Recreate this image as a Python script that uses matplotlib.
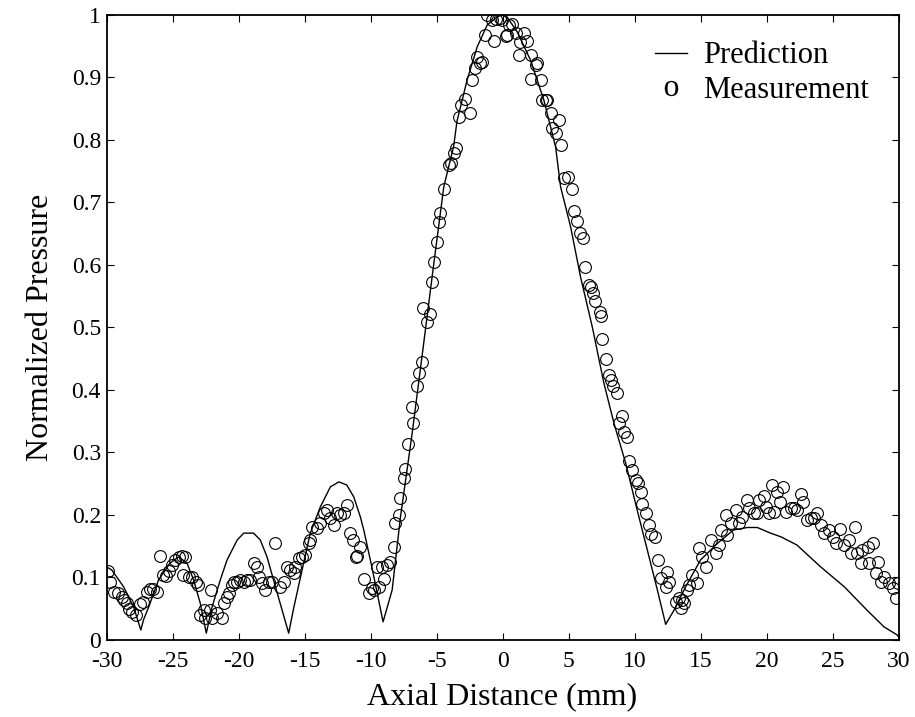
import matplotlib
matplotlib.use("Agg")
import matplotlib.pyplot as plt
from matplotlib.lines import Line2D

#%% Data

# Prediction curve (axial distance in mm, normalized pressure)
pred_x = [-30.0, -29.6, -28.7, -27.95, -27.4, -27.2, -26.8, -26.06, -25.2, -24.54,
          -23.9, -23.4, -22.9, -22.44, -22.0, -21.38, -20.87, -20.1, -19.6, -18.86,
          -18.35, -17.84, -17.2, -16.7, -16.2, -15.8, -15.3, -14.56, -13.8, -13.04,
          -12.4, -11.8, -11.27, -10.77, -10.5, -9.9, -9.05, -8.36, -7.73, -6.85,
          -5.97, -5.2, -4.45, -3.7, -3.45, -2.68, -1.92, -1.16, -0.4, 0.0,
          0.4, 1.11, 2.12, 3.13, 4.02, 4.4, 5.16, 5.91, 6.8, 7.68,
          8.44, 9.33, 10.2, 10.97, 11.73, 12.36, 13.0, 13.87, 15.0, 16.3,
          17.5, 18.55, 19.3, 20.3, 21.1, 22.3, 24.1, 25.9, 27.6, 28.9,
          29.9, 30.0]
pred_y = [0.117, 0.112, 0.085, 0.053, 0.016, 0.032, 0.053, 0.096, 0.123, 0.133,
          0.123, 0.096, 0.059, 0.011, 0.053, 0.096, 0.128, 0.160, 0.171, 0.171,
          0.160, 0.133, 0.085, 0.048, 0.011, 0.053, 0.101, 0.171, 0.213, 0.245,
          0.253, 0.248, 0.229, 0.197, 0.175, 0.117, 0.029, 0.080, 0.197, 0.330,
          0.475, 0.603, 0.725, 0.790, 0.830, 0.896, 0.949, 0.984, 0.997, 1.000,
          0.995, 0.973, 0.928, 0.864, 0.789, 0.725, 0.661, 0.581, 0.501, 0.411,
          0.347, 0.283, 0.208, 0.144, 0.080, 0.025, 0.048, 0.085, 0.128, 0.155,
          0.176, 0.180, 0.180, 0.171, 0.165, 0.152, 0.117, 0.085, 0.048, 0.021,
          0.008, 0.005]

# Measured points
meas_x = [
    # side lobes, left
    -29.92, -29.77, -29.47, -29.16, -28.84, -28.71, -28.46, -28.33, -28.08, -27.75,
    -27.45, -27.24, -26.94, -26.74, -26.49, -26.18, -25.93, -25.73, -25.47, -25.30,
    -25.04, -24.79, -24.54, -24.29, -24.03, -24.21, -23.78, -23.53, -23.20, -23.10,
    -22.90, -22.64, -22.52, -22.14, -22.01, -21.63, -21.25, -22.09, -21.13, -20.87,
    -20.75, -20.50, -20.37, -20.12, -19.86, -19.61, -19.36, -19.11, -18.85, -18.60,
    -18.48, -18.22, -17.97, -17.72, -17.46, -17.21, -16.83, -16.58, -16.33, -16.07,
    -15.82, -15.69, -15.44, -15.19, -14.94, -14.68, -14.56, -14.43, -14.05, -13.80,
    -13.55, -13.29, -13.04, -12.79, -12.53, -12.28,
    -12.03, -11.78, -11.52, -11.32, -11.07, -11.00, -10.77, -10.51, -10.13, -9.88,
    -9.75, -9.37, -8.99, -9.50, -9.12, -8.75, -8.54,
    # main lobe, rising side
    -8.24, -8.11, -7.86, -7.73, -7.48, -7.35, -7.18, -6.85, -6.77, -6.47,
    -6.34, -6.09, -5.71, -5.51, -6.01, -5.33, -5.16,
    -4.95, -4.83, -4.70, -4.40, -4.07, -3.94, -3.69, -3.56, -3.31, -3.18,
    -2.48, -2.81, -2.30, -2.05, -1.92, -1.67, -1.54, -1.29, -1.16, -0.66,
    -0.78, -0.53, -0.20, -0.03, 0.23, 0.35, 0.48, 0.73, 0.99, 1.36,
    1.62, 1.87, 1.24, 2.12, 2.63, 2.50, 2.17, 2.88, 3.01, 3.26,
    3.39, 3.64, 4.27, 3.77, 4.02, 4.40, 4.65, 4.95, 5.28, 5.41,
    5.66, 5.86, 6.12,
    # main lobe, falling side
    6.22, 6.55, 6.67, 6.87, 7.00, 7.38, 7.43, 7.56, 7.81, 8.06,
    8.19, 8.37, 8.64, 9.02, 8.82, 9.20, 9.45, 9.58, 9.83, 10.08,
    10.26, 10.46, 10.59, 10.84, 11.09, 11.27, 11.52, 11.80, 12.43, 11.98,
    12.61, 12.36,
    # side lobe, right
    13.12, 13.37, 13.62, 13.75, 13.50, 14.00, 14.13, 14.38, 14.76, 14.89,
    15.14, 15.39, 15.77, 16.15, 16.41, 16.53, 16.91, 17.03, 17.29, 17.67,
    17.92, 18.17, 18.55, 18.68, 19.05, 19.31, 19.44, 19.81, 19.94, 20.19,
    20.44, 20.82, 21.28, 21.03, 20.57, 21.45, 21.83, 22.08, 22.34, 22.64,
    22.79, 23.05, 23.35, 23.60, 23.86, 24.11, 24.36, 24.74, 25.00, 25.25,
    25.57, 25.88, 26.26, 26.38, 26.71, 26.89, 27.27, 27.65, 28.03, 27.14,
    27.77, 28.41, 28.28, 28.66, 28.91, 29.29, 29.55, 29.93, 29.80]
meas_y = [
    0.111, 0.092, 0.077, 0.075, 0.069, 0.064, 0.059, 0.049, 0.045, 0.040,
    0.058, 0.061, 0.077, 0.081, 0.081, 0.077, 0.134, 0.104, 0.102, 0.111,
    0.120, 0.128, 0.133, 0.134, 0.133, 0.104, 0.101, 0.101, 0.092, 0.088,
    0.040, 0.048, 0.035, 0.048, 0.035, 0.043, 0.035, 0.080, 0.059, 0.069,
    0.075, 0.088, 0.092, 0.093, 0.096, 0.093, 0.096, 0.096, 0.123, 0.117,
    0.101, 0.091, 0.080, 0.093, 0.093, 0.155, 0.085, 0.093, 0.117, 0.112,
    0.107, 0.117, 0.131, 0.133, 0.136, 0.155, 0.160, 0.181, 0.179, 0.187,
    0.203, 0.208, 0.195, 0.184, 0.203, 0.200,
    0.203, 0.216, 0.171, 0.160, 0.133, 0.135, 0.149, 0.097, 0.075, 0.083,
    0.080, 0.085, 0.097, 0.117, 0.117, 0.120, 0.125,
    0.148, 0.187, 0.200, 0.227, 0.259, 0.273, 0.313, 0.372, 0.347, 0.406,
    0.427, 0.445, 0.509, 0.522, 0.531, 0.573, 0.604,
    0.637, 0.668, 0.683, 0.721, 0.760, 0.763, 0.779, 0.787, 0.837, 0.856,
    0.843, 0.865, 0.896, 0.915, 0.933, 0.923, 0.925, 0.968, 1.000, 0.959,
    0.992, 0.993, 0.995, 0.992, 0.966, 0.968, 0.984, 0.986, 0.971, 0.956,
    0.971, 0.958, 0.936, 0.936, 0.923, 0.920, 0.897, 0.896, 0.864, 0.864,
    0.864, 0.843, 0.832, 0.819, 0.811, 0.792, 0.739, 0.741, 0.721, 0.687,
    0.671, 0.651, 0.643,
    0.597, 0.568, 0.565, 0.555, 0.543, 0.524, 0.519, 0.481, 0.449, 0.424,
    0.416, 0.406, 0.395, 0.358, 0.347, 0.333, 0.324, 0.287, 0.272, 0.256,
    0.251, 0.237, 0.218, 0.203, 0.184, 0.170, 0.164, 0.128, 0.109, 0.099,
    0.093, 0.084,
    0.061, 0.067, 0.064, 0.059, 0.051, 0.080, 0.088, 0.104, 0.091, 0.147,
    0.133, 0.117, 0.160, 0.139, 0.152, 0.176, 0.200, 0.168, 0.187, 0.208,
    0.187, 0.196, 0.224, 0.211, 0.203, 0.203, 0.224, 0.230, 0.213, 0.203,
    0.248, 0.237, 0.245, 0.221, 0.205, 0.205, 0.211, 0.211, 0.208, 0.234,
    0.220, 0.192, 0.195, 0.195, 0.203, 0.184, 0.171, 0.176, 0.165, 0.155,
    0.177, 0.152, 0.160, 0.139, 0.180, 0.139, 0.144, 0.149, 0.155, 0.123,
    0.123, 0.125, 0.107, 0.093, 0.101, 0.091, 0.083, 0.091, 0.067]

x_ticks = [-30, -25, -20, -15, -10, -5, 0, 5, 10, 15, 20, 25, 30]
x_ticklabels = ['-30', '-25', '-20', '-15', '-10', '-5', '0', '5', '10', '15', '20', '25', '30']
y_ticks = [0, 0.1, 0.2, 0.3, 0.4, 0.5, 0.6, 0.7, 0.8, 0.9, 1.0]
y_ticklabels = ['0', '0.1', '0.2', '0.3', '0.4', '0.5', '0.6', '0.7', '0.8', '0.9', '1']

#%% Plot

plt.rcParams['font.family'] = ['Liberation Serif', 'DejaVu Serif']
plt.rcParams['mathtext.fontset'] = 'custom'
plt.rcParams['mathtext.rm'] = 'Liberation Serif'

fig = plt.figure(figsize=(9.15, 7.17), dpi=100)
ax = fig.add_axes([0.1164, 0.1074, 0.8656, 0.8717])

ax.plot(pred_x, pred_y, color='k', lw=1.0)
ax.plot(meas_x, meas_y, ls='none', marker='o', ms=8.5, mfc='none', mec='k', mew=0.8)

ax.set_xlim(-30, 30)
ax.set_ylim(0, 1)
ax.set_xticks(x_ticks)
ax.set_xticklabels(x_ticklabels)
ax.set_yticks(y_ticks)
ax.set_yticklabels(y_ticklabels)
ax.tick_params(direction='in', top=True, right=True, length=5, width=0.8, labelsize=17)
ax.tick_params(axis='x', pad=8)
ax.tick_params(axis='y', pad=4)
for s in ax.spines.values():
    s.set_linewidth(1.3)

ax.set_xlabel('Axial Distance (mm)', fontsize=23, labelpad=7)
ax.set_ylabel('Normalized Pressure', fontsize=23, labelpad=12)

### Legend: a plain line and the letter "o"
handles = [Line2D([], [], color='k', lw=1.0),
           Line2D([], [], ls='none', marker=r'$\mathrm{o}$', color='k', ms=11, mew=0)]
ax.legend(handles, ['Prediction', 'Measurement'], loc='upper right',
          bbox_to_anchor=(0.962, 0.958), frameon=False, fontsize=22,
          borderaxespad=0, borderpad=0, handlelength=1.05, handletextpad=0.5,
          labelspacing=0.2)

plt.savefig('out.png', dpi=100)
